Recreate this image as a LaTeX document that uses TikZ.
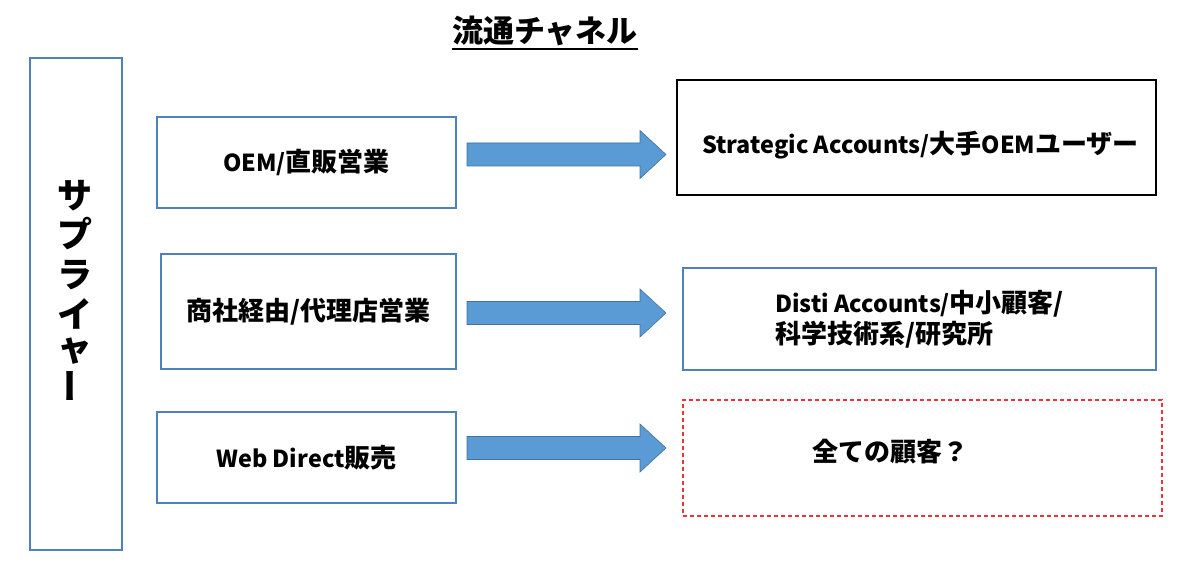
\documentclass[tikz,border=0pt]{standalone}
\usepackage{fontspec}
\setmainfont{Noto Sans CJK JP}
\newfontfamily\latn{Noto Sans CJK JP}[Scale=0.9]
\usetikzlibrary{calc,positioning}
\definecolor{boxBlue}{RGB}{79,129,189}
\definecolor{arrowBlue}{RGB}{91,155,213}
\definecolor{arrowEdge}{RGB}{65,113,156}
\definecolor{dashRed}{RGB}{236,50,60}
\newcommand{\en}[1]{{\latn #1}}

\begin{document}
\begin{tikzpicture}[x=1pt, y=-1pt,
  every node/.style={font=\fontsize{26}{31}\selectfont\bfseries},
  chanbox/.style={draw=boxBlue, line width=1.5pt, minimum width=299pt, inner sep=0pt},
  acctbox/.style={draw=black, line width=1.5pt, minimum width=479pt, inner sep=0pt},
  dashbox/.style={draw=dashRed, line width=1.5pt, dash pattern=on 4pt off 3pt, minimum width=479pt, minimum height=116pt, inner sep=0pt},
  flowarrow/.style={fill=arrowBlue, draw=arrowEdge, line width=0.6pt}]

% Canvas
\useasboundingbox (0,0) rectangle (1200,564);

% Title
\node[font=\fontsize{31}{36}\selectfont\bfseries, inner sep=0pt] (title) at (545,31) {流通チャネル};
\draw[line width=2pt] ([yshift=-18pt]title.west) -- ([yshift=-18pt]title.east);

% Supplier (vertical text)
\draw[boxBlue, line width=1.5pt] (30,58) rectangle (122,550);
\foreach \c/\y/\r [count=\i] in {サ/196/0, プ/234/0, ラ/275/0, イ/314/0, ャ/351/0, ー/386/90} {
  \node[font=\fontsize{35}{35}\selectfont\bfseries, inner sep=0pt, rotate=\r] (sup\i) at (75,\y) {\c};
}

% Sales channels
\node[chanbox, minimum height=91pt] (oem) at (306.5,162.5) {\en{OEM/}直販営業};
\node[chanbox, minimum height=115pt, minimum width=295pt] (disti) at (308.5,311.5) {商社経由/代理店営業};
\node[chanbox, minimum height=91pt] (web) at (306.5,457.5) {\en{Web Direct}販売};

% Customer groups
\node[acctbox, minimum height=115pt] (strat) at (916.5,137.5) {};
\node (strattxt) at ($(strat.center)+(4,8)$) {\en{Strategic Accounts/}大手\en{OEM}ユーザー};
\node[acctbox, draw=boxBlue, minimum width=473pt, minimum height=102pt, align=left] (small) at (919.5,319)
  {\en{Disti Accounts/}中小顧客/\\科学技術系/研究所};
\node[dashbox] (all) at (922.5,458) {};
\node (alltxt) at ($(all.center)+(-32,-6)$) {全ての顧客？};

% Block arrows
\foreach \y in {154.5, 313, 448} {
  \draw[flowarrow] (467,\y-11.5) -- (640,\y-11.5) -- (640,\y-24) -- (666,\y)
    -- (640,\y+24) -- (640,\y+11.5) -- (467,\y+11.5) -- cycle;
}

\end{tikzpicture}
\end{document}
